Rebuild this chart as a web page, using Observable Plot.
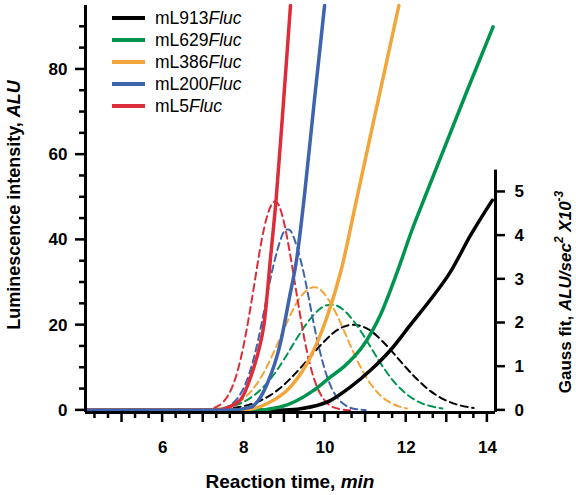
<!DOCTYPE html>
<html><head><meta charset="utf-8">
<script src="https://cdn.jsdelivr.net/npm/d3@7"></script>
<script src="https://cdn.jsdelivr.net/npm/@observablehq/plot@0.6"></script>
<style>body{margin:0;background:#fff} #chart svg{display:block}</style>
</head><body><div id="chart"></div>
<script>
// ---- series names and colours ----
const seriesNames = ["mL913", "mL629", "mL386", "mL200", "mL5"];
const seriesColors = ["#000000", "#00954f", "#f2a53a", "#3f64ae", "#dc2d3a"];

// ---- luminescence (left axis, ALU) vs reaction time (min) ----
const lum913T = [4.15, 8.4, 9.0, 9.4, 10.13, 10.63, 11.12, 11.61, 12.1, 12.6, 13.09, 13.58, 14.12];
const lum913Y = [0, 0, 0.1, 0.4, 2.3, 5.5, 9.4, 14.1, 20.0, 26.0, 32.5, 41.0, 49.3];
const lum629T = [4.15, 8.2, 8.9, 9.72, 10.13, 10.46, 10.92, 11.37, 11.78, 12.15, 12.43, 13.0, 13.5, 14.14];
const lum629Y = [0, 0, 0.8, 4.7, 7.8, 10.2, 14.9, 22.5, 32.5, 42.5, 49.3, 63, 75, 90];
const lum386T = [4.15, 7.9, 8.58, 9.15, 9.64, 10.05, 10.4, 10.79, 11.2, 11.5, 11.82];
const lum386Y = [0, 0, 1.6, 5.5, 12.5, 21.9, 33, 50, 68, 81, 95];
const lum200T = [4.15, 7.6, 8.16, 8.58, 8.9, 9.11, 9.31, 9.5, 9.73, 9.99];
const lum200Y = [0, 0, 0.7, 6.3, 15.7, 25.8, 36, 51, 72, 95];
const lum5T = [4.15, 7.3, 7.9, 8.2, 8.35, 8.5, 8.66, 8.8, 8.98, 9.15];
const lum5Y = [0, 0, 2.3, 8.7, 13.5, 20.4, 36, 50, 72.7, 95];

// ---- Gauss fits (right axis, ALU/sec^2 x10^-3) ----
const gau913T = [7.75, 8.1, 8.45, 8.8, 9.15, 9.5, 9.85, 10.2, 10.45, 10.7, 10.95, 11.2, 11.55, 11.9, 12.25, 12.6, 12.95, 13.3, 13.66];
const gau913Y = [0.054, 0.12, 0.242, 0.44, 0.73, 1.08, 1.45, 1.77, 1.91, 1.96, 1.91, 1.77, 1.45, 1.08, 0.73, 0.44, 0.242, 0.12, 0.053];
const gau629T = [7.5, 7.8, 8.1, 8.4, 8.7, 9.0, 9.3, 9.6, 9.9, 10.15, 10.4, 10.7, 11.0, 11.3, 11.6, 11.9, 12.2, 12.5, 12.89];
const gau629Y = [0.054, 0.121, 0.248, 0.46, 0.77, 1.18, 1.64, 2.05, 2.34, 2.42, 2.34, 2.05, 1.64, 1.18, 0.77, 0.46, 0.248, 0.121, 0.041];
const gau386T = [7.3, 7.6, 7.9, 8.2, 8.5, 8.8, 9.1, 9.4, 9.72, 10.0, 10.3, 10.6, 10.9, 11.2, 11.5, 11.8, 12.02];
const gau386Y = [0.029, 0.084, 0.21, 0.46, 0.88, 1.46, 2.09, 2.60, 2.82, 2.65, 2.17, 1.54, 0.95, 0.51, 0.24, 0.096, 0.045];
const gau200T = [7.2, 7.45, 7.7, 7.95, 8.2, 8.45, 8.7, 8.95, 9.08, 9.2, 9.45, 9.7, 9.95, 10.2, 10.45, 10.7, 11.0];
const gau200Y = [0.008, 0.037, 0.14, 0.43, 1.04, 2.04, 3.20, 4.02, 4.14, 4.03, 3.25, 2.09, 1.08, 0.44, 0.15, 0.039, 0.006];
const gau5T = [7.0, 7.25, 7.5, 7.75, 8.0, 8.25, 8.5, 8.76, 9.0, 9.25, 9.5, 9.75, 10.0, 10.25, 10.5, 10.62];
const gau5Y = [0.010, 0.050, 0.20, 0.62, 1.51, 2.84, 4.17, 4.78, 4.26, 2.96, 1.60, 0.67, 0.22, 0.056, 0.011, 0.004];

// ---- ticks ----
const xLabelTicks = [6, 8, 10, 12, 14];
const xMajorTicks = [5, 6, 7, 8, 9, 10, 11, 12, 13, 14];
const xMinorTicks = [4.333, 4.667, 5.333, 5.667, 6.333, 6.667, 7.333, 7.667, 8.333, 8.667, 9.333, 9.667,
  10.333, 10.667, 11.333, 11.667, 12.333, 12.667, 13.333, 13.667];
const yLabelTicks = [0, 20, 40, 60, 80];
const yMinorTicks = [5, 10, 15, 25, 30, 35, 45, 50, 55, 65, 70, 75, 85, 90];
const gaussTicks = [0, 1, 2, 3, 4, 5];

// axis extents in data units
const axX0 = 4.1, axX1 = 14.2, axY0 = -0.5, axY1 = 95;
const gaussTop = 5.5;      // right axis extent (x10^-3)
const k = 10.25;           // left units per right-axis unit

// layout: the plotting frame covers the whole SVG; the axes sit inside it
const W = 576, H = 495, mL = 85, mR = 81, mT = 5, mB = 83;
const pxX = (W - mL - mR) / (axX1 - axX0);
const pxY = (H - mT - mB) / (axY1 - axY0);
const xDomain = [axX0 - mL / pxX, axX1 + mR / pxX];
const yDomain = [axY0 - mB / pxY, axY1 + mT / pxY];
const majorLen = 10, minorLen = 6, tickW = 2.5;

const lumSets = [[lum913T, lum913Y], [lum629T, lum629Y], [lum386T, lum386Y], [lum200T, lum200Y], [lum5T, lum5Y]];
const gauSets = [[gau913T, gau913Y], [gau629T, gau629Y], [gau386T, gau386Y], [gau200T, gau200Y], [gau5T, gau5Y]];
const rows = (t, v) => t.map((x, i) => ({x, v: v[i]}));

const font = "'Liberation Sans', Arial, sans-serif";
const marks = [];
gauSets.forEach(([t, v], i) => {
  marks.push(Plot.line(rows(t, v), {x: "x", y: d => d.v * k, stroke: seriesColors[i], strokeWidth: 2,
    strokeDasharray: "7,4.5", curve: "natural"}));
});
const drawOrder = [0, 1, 2, 4, 3];
drawOrder.forEach(i => {
  const [t, v] = lumSets[i];
  marks.push(Plot.line(rows(t, v), {x: "x", y: "v", stroke: seriesColors[i], strokeWidth: 3.5, curve: "monotone-x"}));
});

const lbl = {fontSize: 17, fontWeight: "bold", fill: "#000"};
marks.push(
  // tick labels
  Plot.text(xLabelTicks, {x: d => d, y: axY0, dy: 35, text: d => String(d), ...lbl}),
  Plot.text(yLabelTicks, {x: axX0, y: d => d, dx: -18, textAnchor: "end", text: d => String(d), ...lbl}),
  Plot.text(gaussTicks, {x: axX1, y: d => d * k, dx: 19, textAnchor: "start", text: d => String(d), ...lbl}),
  // tick marks as thin filled rectangles
  Plot.rect(xMajorTicks, {x1: d => d - tickW / 2 / pxX, x2: d => d + tickW / 2 / pxX,
    y1: axY0, y2: axY0 - majorLen / pxY, fill: "#000"}),
  Plot.rect(xMinorTicks, {x1: d => d - tickW / 2 / pxX, x2: d => d + tickW / 2 / pxX,
    y1: axY0, y2: axY0 - minorLen / pxY, fill: "#000"}),
  Plot.rect(yLabelTicks, {y1: d => d - tickW / 2 / pxY, y2: d => d + tickW / 2 / pxY,
    x1: axX0, x2: axX0 - majorLen / pxX, fill: "#000"}),
  Plot.rect(yMinorTicks, {y1: d => d - tickW / 2 / pxY, y2: d => d + tickW / 2 / pxY,
    x1: axX0, x2: axX0 - minorLen / pxX, fill: "#000"}),
  Plot.rect(gaussTicks, {y1: d => d * k - tickW / 2 / pxY, y2: d => d * k + tickW / 2 / pxY,
    x1: axX1, x2: axX1 + majorLen / pxX, fill: "#000"}),
  // axis lines
  Plot.ruleX([axX0], {y1: axY0, y2: axY1, stroke: "#000", strokeWidth: 3}),
  Plot.ruleY([axY0], {x1: axX0, x2: axX1, stroke: "#000", strokeWidth: 3}),
  Plot.ruleX([axX1], {y1: axY0, y2: gaussTop * k, stroke: "#000", strokeWidth: 3})
);

const chart = Plot.plot({
  width: W, height: H,
  marginLeft: 0, marginRight: 0, marginTop: 0, marginBottom: 0,
  x: {domain: xDomain, axis: null},
  y: {domain: yDomain, axis: null},
  style: {fontFamily: font, background: "#fff", color: "#000"},
  marks
});
document.getElementById("chart").appendChild(chart);

const svg = d3.select(chart);
// left title
const lt = svg.append("text").attr("transform", "translate(20,205) rotate(-90)")
  .attr("text-anchor", "middle").attr("font-size", 18).attr("font-weight", "bold").attr("fill", "#000");
lt.append("tspan").text("Luminescence intensity, ");
lt.append("tspan").attr("font-style", "italic").text("ALU");
// right title
const rt = svg.append("text").attr("transform", "translate(571,292) rotate(-90)")
  .attr("text-anchor", "middle").attr("font-size", 17).attr("font-weight", "bold").attr("fill", "#000");
rt.append("tspan").text("Gauss fit, ");
rt.append("tspan").attr("font-style", "italic").text("ALU/sec");
rt.append("tspan").attr("font-style", "italic").attr("font-size", 12).attr("dy", "-8").text("2");
rt.append("tspan").attr("font-style", "italic").attr("dy", "8").text(" X10");
rt.append("tspan").attr("font-style", "italic").attr("font-size", 12).attr("dy", "-8").text("-3");
// bottom title
const bt = svg.append("text").attr("x", 290).attr("y", 488)
  .attr("text-anchor", "middle").attr("font-size", 19).attr("font-weight", "bold").attr("fill", "#000");
bt.append("tspan").text("Reaction time, ");
bt.append("tspan").attr("font-style", "italic").text("min");
// legend
const lg = svg.append("g").attr("text-anchor", "start");
seriesNames.forEach((name, i) => {
  const y = 18 + i * 22;
  lg.append("line").attr("x1", 112).attr("x2", 145).attr("y1", y).attr("y2", y)
    .attr("stroke", seriesColors[i]).attr("stroke-width", 4);
  const tx = lg.append("text").attr("x", 155).attr("y", y + 6).attr("font-size", 17.5)
    .attr("text-anchor", "start").attr("fill", "#000");
  tx.append("tspan").text(name);
  tx.append("tspan").attr("font-style", "italic").text("Fluc");
});
</script>
</body></html>
